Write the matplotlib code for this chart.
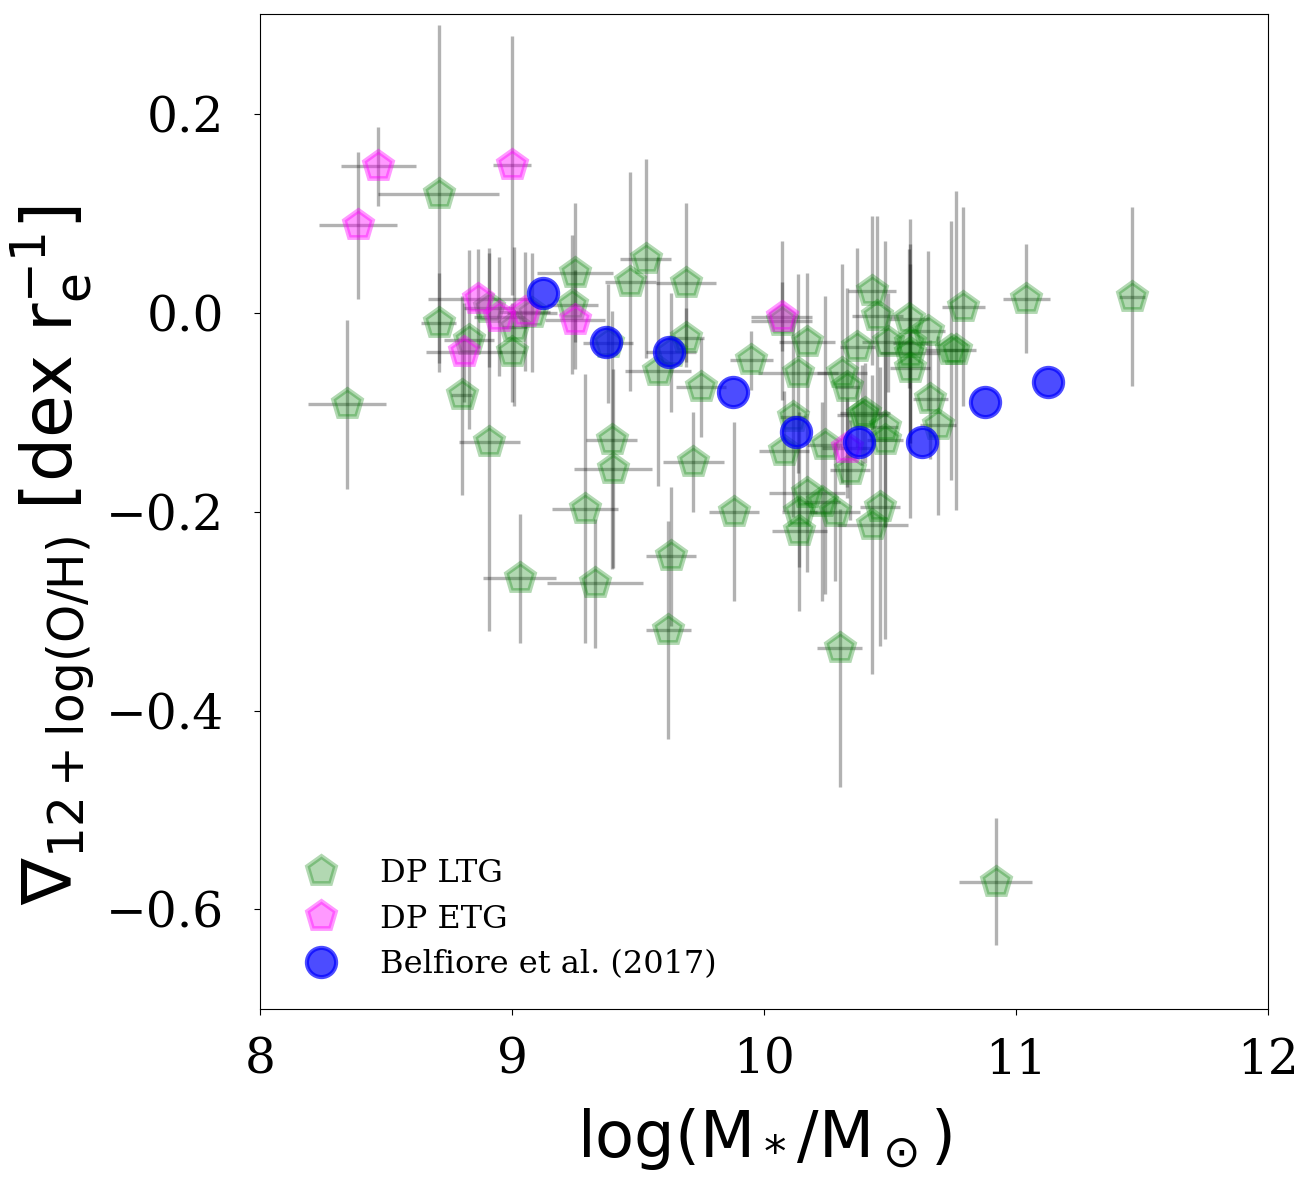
import matplotlib
matplotlib.use("Agg")
import matplotlib.pyplot as plt
import numpy as np

plt.rcParams['font.family'] = ['DejaVu Serif']

# DP LTG (late-type galaxies)
ltg_mass = [8.345, 8.71, 8.71, 8.83, 8.80, 8.91, 9.00, 9.01, 9.08, 8.91,
            9.03, 9.29, 9.33, 9.395, 9.40, 9.25, 9.24, 9.47, 9.53, 9.58,
            9.69, 9.69, 9.75, 9.72, 9.88, 9.63, 9.62, 9.95, 10.07, 10.17,
            10.135, 10.115, 10.08, 10.24, 10.31, 10.33, 10.37, 10.43, 10.45, 10.39,
            10.48, 10.48, 10.34, 10.17, 10.23, 10.14, 10.28, 10.14, 10.46, 10.43,
            10.30, 10.575, 10.65, 10.49, 10.58, 10.58, 10.58, 10.74, 10.76, 10.66,
            10.69, 10.40, 10.79, 11.04, 11.46, 10.92, 9.38, 9.63]
ltg_grad = [-0.092, 0.119, -0.010, -0.027, -0.083, -0.130, -0.040, -0.014, 0.000, 0.005,
            -0.267, -0.197, -0.272, -0.128, -0.157, 0.040, 0.008, 0.031, 0.054, -0.059,
            0.030, -0.025, -0.075, -0.150, -0.200, -0.245, -0.319, -0.048, -0.008, -0.030,
            -0.061, -0.105, -0.139, -0.133, -0.061, -0.075, -0.035, 0.022, -0.003, -0.103,
            -0.115, -0.128, -0.158, -0.181, -0.190, -0.200, -0.200, -0.220, -0.195, -0.213,
            -0.337, -0.006, -0.018, -0.030, -0.031, -0.041, -0.056, -0.038, -0.038, -0.087,
            -0.113, -0.101, 0.006, 0.014, 0.016, -0.572, -0.031, -0.040]
ltg_mass_err = [0.155, 0.24, 0.07, 0.10, 0.04, 0.12, 0.05, 0.05, 0.10, 0.10,
                0.145, 0.13, 0.19, 0.10, 0.155, 0.15, 0.10, 0.10, 0.10, 0.13,
                0.12, 0.07, 0.10, 0.12, 0.10, 0.10, 0.09, 0.085, 0.12, 0.11,
                0.16, 0.05, 0.10, 0.07, 0.10, 0.05, 0.07, 0.095, 0.10, 0.10,
                0.05, 0.07, 0.08, 0.15, 0.07, 0.07, 0.10, 0.11, 0.08, 0.14,
                0.09, 0.08, 0.07, 0.10, 0.07, 0.12, 0.08, 0.10, 0.05, 0.07,
                0.07, 0.10, 0.085, 0.093, 0.05, 0.145, 0.10, 0.10]
ltg_grad_err = [0.085, 0.17, 0.05, 0.09, 0.10, 0.19, 0.05, 0.08, 0.06, 0.06,
                0.065, 0.135, 0.065, 0.13, 0.10, 0.07, 0.07, 0.11, 0.10, 0.115,
                0.08, 0.03, 0.05, 0.05, 0.09, 0.07, 0.11, 0.03, 0.08, 0.07,
                0.10, 0.10, 0.06, 0.15, 0.11, 0.10, 0.10, 0.075, 0.10, 0.05,
                0.10, 0.20, 0.05, 0.08, 0.10, 0.10, 0.07, 0.036, 0.14, 0.15,
                0.14, 0.07, 0.08, 0.05, 0.10, 0.09, 0.15, 0.13, 0.16, 0.06,
                0.09, 0.05, 0.10, 0.055, 0.09, 0.064, 0.06, 0.06]

# DP ETG (early-type galaxies)
etg_mass = [8.39, 8.47, 9.00, 8.865, 8.95, 9.05, 9.25, 8.81, 10.07, 10.33]
etg_grad = [0.088, 0.147, 0.148, 0.014, -0.004, 0.001, -0.007, -0.040, -0.004, -0.136]
etg_mass_err = [0.155, 0.15, 0.075, 0.20, 0.10, 0.10, 0.12, 0.15, 0.12, 0.10]
etg_grad_err = [0.074, 0.04, 0.13, 0.05, 0.06, 0.06, 0.05, 0.05, 0.035, 0.05]

# Belfiore et al. (2017)
bel_mass = [9.125, 9.375, 9.625, 9.875, 10.125, 10.375, 10.625, 10.875, 11.125]
bel_grad = [0.02, -0.03, -0.04, -0.08, -0.12, -0.13, -0.13, -0.09, -0.07]

fig = plt.figure(figsize=(13.06, 11.87), dpi=100)
ax = fig.add_axes([0.199, 0.150, 0.772, 0.838])

ax.errorbar(ltg_mass, ltg_grad, xerr=ltg_mass_err, yerr=ltg_grad_err, fmt='none',
            ecolor='k', alpha=0.3, elinewidth=2.4, capsize=0, zorder=1)
ax.errorbar(etg_mass, etg_grad, xerr=etg_mass_err, yerr=etg_grad_err, fmt='none',
            ecolor='k', alpha=0.3, elinewidth=2.4, capsize=0, zorder=1)

ax.plot(ltg_mass, ltg_grad, 'p', color='green', alpha=0.3, ms=21, mew=3.5,
        label='DP LTG', zorder=2)
ax.plot(etg_mass, etg_grad, 'p', color='magenta', alpha=0.4, ms=21, mew=3.5,
        label='DP ETG', zorder=2)
ax.plot(bel_mass, bel_grad, 'o', color='blue', alpha=0.7, ms=21, mew=3,
        label='Belfiore et al. (2017)', zorder=3)

ax.set_xlim(8, 12)
ax.set_ylim(-0.7, 0.3)
ax.set_xticks([8, 9, 10, 11, 12])
ax.set_yticks([0.2, 0.0, -0.2, -0.4, -0.6])
ax.tick_params(labelsize=35, length=4, direction='out')
ax.tick_params(axis='x', pad=16)
ax.tick_params(axis='y', pad=22)

ax.set_xlabel(r'$\log(\rm M_*/M_\odot)$', fontsize=46, labelpad=16)
ax.set_ylabel(r'$\nabla_{\rm 12+log(O/H)}\ [\rm dex\ r_e^{-1}]$', fontsize=50, labelpad=12)
ax.yaxis.set_label_coords(-0.162, 0.456)

ax.legend(loc='lower left', frameon=False, fontsize=23, borderpad=0.4,
          handletextpad=0.87, labelspacing=0.46)

fig.savefig('out.png', dpi=100)
